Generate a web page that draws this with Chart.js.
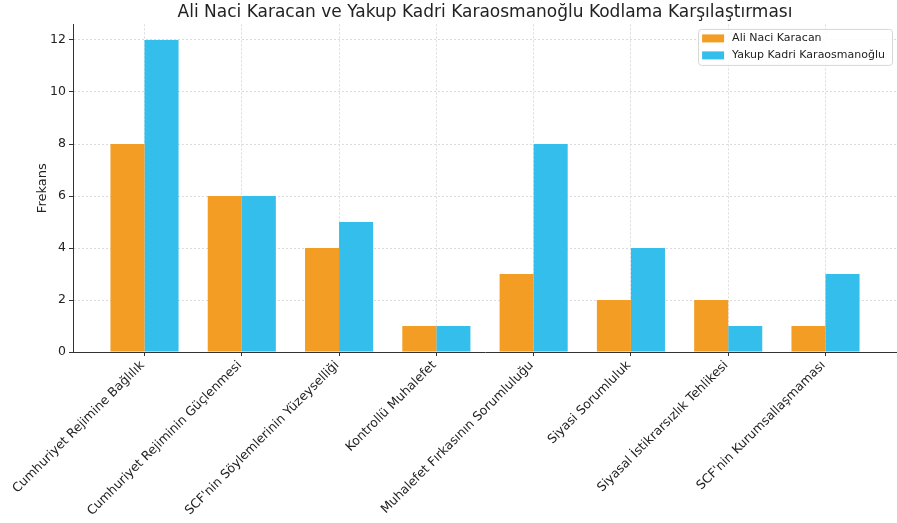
<!DOCTYPE html>
<html>
<head>
<meta charset="utf-8">
<script src="https://cdn.jsdelivr.net/npm/chart.js@4"></script>
<style>
  html, body { margin: 0; padding: 0; background: #fff; }
  #wrap { width: 897px; height: 523px; }
</style>
</head>
<body>
<div id="wrap"><canvas id="chart"></canvas></div>
<script>
const categories = [
  "Cumhuriyet Rejimine Bağlılık",
  "Cumhuriyet Rejiminin Güçlenmesi",
  "SCF'nin Söylemlerinin Yüzeyselliği",
  "Kontrollü Muhalefet",
  "Muhalefet Fırkasının Sorumluluğu",
  "Siyasi Sorumluluk",
  "Siyasal İstikrarsızlık Tehlikesi",
  "SCF'nin Kurumsallaşmaması"
];
const aliNaci = [8, 6, 4, 1, 3, 2, 2, 1];
const yakupKadri = [12, 6, 5, 1, 8, 4, 1, 3];
const yTicks = [0, 2, 4, 6, 8, 10, 12];

const FONT = "'DejaVu Sans', sans-serif";

// legend box drawn inside the plot, top right (like matplotlib)
const innerLegend = {
  id: "innerLegend",
  afterDraw(chart) {
    const ctx = chart.ctx;
    const area = chart.chartArea;
    const sets = chart.data.datasets;
    ctx.save();
    ctx.font = "11px " + FONT;
    const textW = Math.max(...sets.map(d => ctx.measureText(d.label).width));
    const w = 4 + 22 + 8 + textW + 7;
    const h = 36;
    const x = area.right - 5 - w;
    const y = area.top + 4.5;
    ctx.fillStyle = "rgba(255,255,255,0.85)";
    ctx.strokeStyle = "#d6d6d6";
    ctx.lineWidth = 1;
    ctx.beginPath();
    ctx.roundRect(x + 0.5, y + 0.5, w, h, 3);
    ctx.fill();
    ctx.stroke();
    sets.forEach((d, i) => {
      const cy = y + 9.5 + i * 17;
      ctx.fillStyle = d.backgroundColor;
      ctx.fillRect(x + 4, cy - 4, 22, 8);
      ctx.fillStyle = "#222";
      ctx.textBaseline = "middle";
      ctx.fillText(d.label, x + 34, cy);
    });
    ctx.restore();
  }
};

const gridOpts = {
  color: "#dcdcdc",
  tickLength: 4,
  tickColor: "#333",
  tickBorderDash: [],
  offset: false
};

new Chart(document.getElementById("chart"), {
  type: "bar",
  data: {
    datasets: [
      {
        label: "Ali Naci Karacan",
        data: aliNaci.map((v, i) => ({ x: i, y: v })),
        backgroundColor: "#F49D25",
        borderWidth: 0
      },
      {
        label: "Yakup Kadri Karaosmanoğlu",
        data: yakupKadri.map((v, i) => ({ x: i, y: v })),
        backgroundColor: "#34BEEC",
        borderWidth: 0
      }
    ]
  },
  options: {
    responsive: true,
    maintainAspectRatio: false,
    animation: false,
    categoryPercentage: 0.7,
    barPercentage: 1.0,
    layout: { padding: 0 },
    plugins: {
      legend: { display: false },
      tooltip: { enabled: false },
      title: {
        display: true,
        fullSize: false,
        text: "Ali Naci Karacan ve Yakup Kadri Karaosmanoğlu Kodlama Karşılaştırması",
        color: "#222",
        font: { family: FONT, size: 17, weight: "normal" },
        padding: { top: 2, bottom: 2 }
      }
    },
    scales: {
      x: {
        type: "linear",
        offset: false,
        min: -0.735,
        max: 7.735,
        afterBuildTicks: (s) => { s.ticks = categories.map((_, i) => ({ value: i })); },
        afterFit: (s) => { s.height = 171; },
        ticks: {
          callback: (v) => categories[v] || "",
          minRotation: 45,
          maxRotation: 45,
          autoSkip: false,
          padding: 2,
          labelOffset: -2,
          color: "#222",
          font: { family: FONT, size: 12.5 }
        },
        grid: gridOpts,
        border: { display: true, color: "#333", width: 1, dash: [2, 2] }
      },
      y: {
        min: 0,
        max: 12.6,
        afterBuildTicks: (s) => { s.ticks = yTicks.map(v => ({ value: v })); },
        afterFit: (s) => { s.width = 73; },
        ticks: {
          padding: 3,
          color: "#222",
          font: { family: FONT, size: 12.5 }
        },
        grid: gridOpts,
        border: { display: true, color: "#333", width: 1, dash: [2, 2] },
        title: {
          display: true,
          text: "Frekans",
          color: "#222",
          font: { family: FONT, size: 13 },
          padding: { top: 35, bottom: 0 }
        }
      }
    }
  },
  plugins: [innerLegend]
});
</script>
</body>
</html>
